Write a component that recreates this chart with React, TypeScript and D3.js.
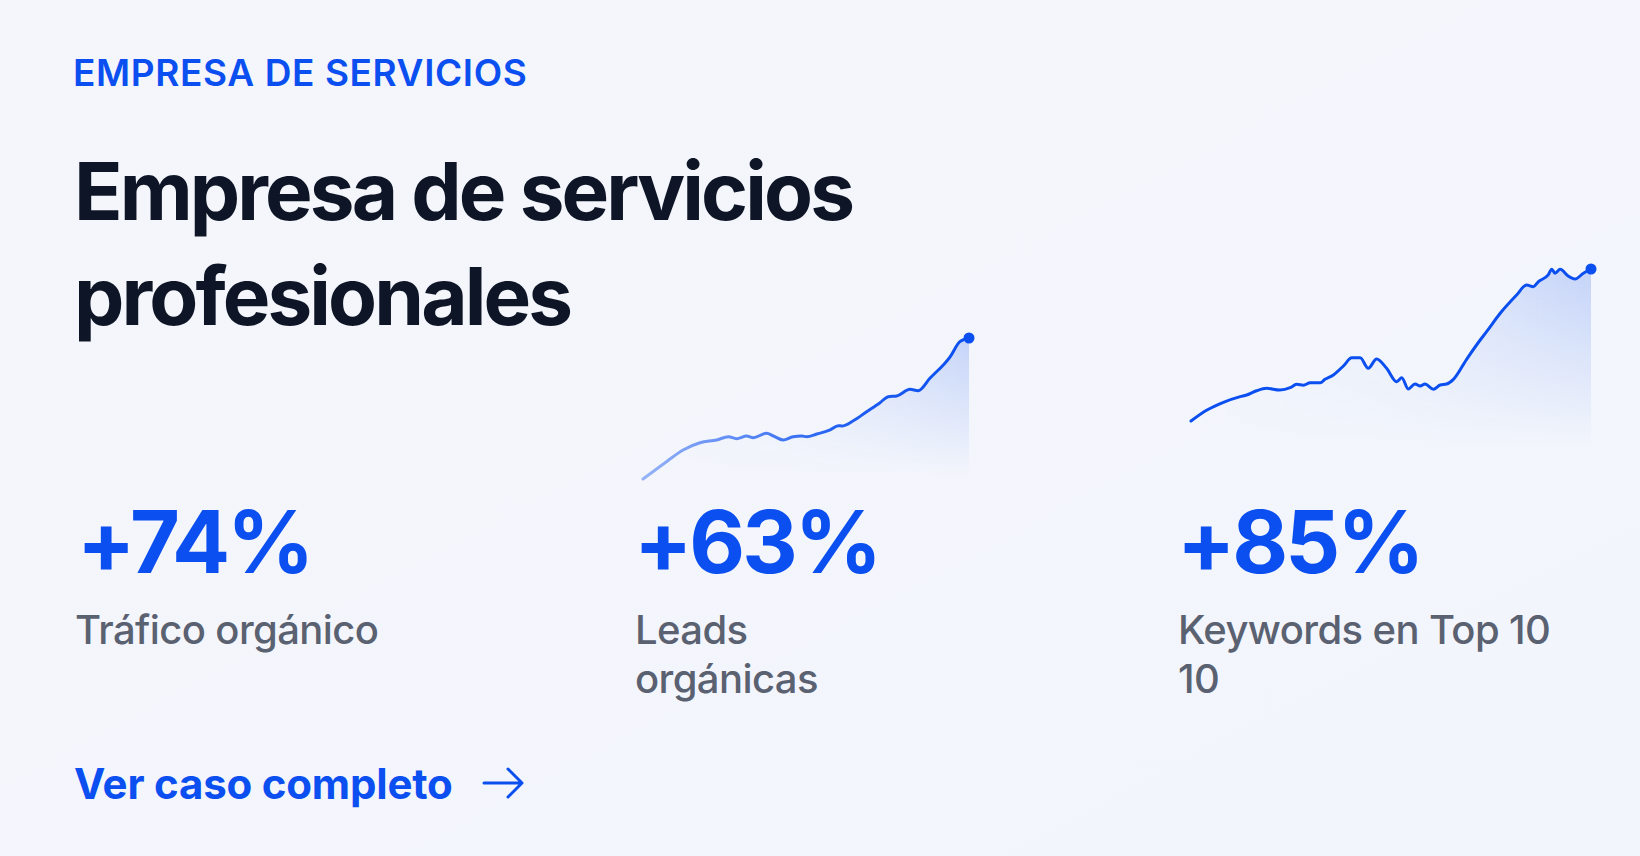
import { useEffect } from 'react'
import * as d3 from 'd3'

// Leads orgánicas sparkline (x = progress of the period, y = relative index)
const leadsX = [0, 7.2, 12.3, 17.5, 22.6, 26.2, 28.7, 31.8, 33.8, 37.9, 40, 43, 46, 48.7, 50.2, 53.3, 57.4, 59.9, 61, 64.5, 68.6, 72.7, 75.2, 77.8, 81.9, 84.4, 88, 94.2, 97.2, 100]
const leadsY = [0, 12.3, 20.6, 25.7, 27.7, 30, 28.6, 30.5, 29.3, 32.4, 30.5, 27.7, 30, 30.5, 30, 31.9, 34.8, 37.8, 37.6, 41.3, 47.7, 54.1, 58.4, 58.9, 63.6, 62.6, 71.4, 86.7, 97.4, 100]

// Keywords en Top 10 sparkline
const kwX = [0, 4, 8.1, 12.3, 13.9, 16.4, 18.9, 22.2, 24.8, 26.4, 28.1, 29.8, 32.3, 33.5, 35.6, 38.1, 40.2, 42.3, 44.3, 46.4, 48.9, 51.4, 52.7, 54.3, 56, 57.3, 58.5, 60.6, 62.3, 63.9, 65.6, 68.9, 72.3, 73.9, 77.3, 81.4, 83.9, 85.6, 86.8, 89.3, 90.2, 91, 92.3, 94.3, 96, 98.1, 100]
const kwY = [0, 7.2, 12.3, 16, 17.1, 19.9, 21.5, 20.4, 21.9, 24.1, 23.5, 25.2, 25.2, 27.4, 30.3, 36.2, 41.6, 41.6, 34.7, 40.8, 34.7, 25.9, 28.5, 21.1, 24.3, 23, 24.3, 20.9, 23.7, 24.3, 27.4, 40.6, 53.3, 58.8, 70.9, 82.9, 89.5, 88.4, 91.6, 96.1, 99.8, 97.2, 99.8, 95.4, 93.4, 97.2, 100]

const eyebrow = 'EMPRESA DE SERVICIOS'
const titleLines = ['Empresa de servicios', 'profesionales']
const statValues = ['+74%', '+63%', '+85%']
const statLabels = [['Tráfico orgánico'], ['Leads', 'orgánicas'], ['Keywords en Top 10', '10']]
const linkText = 'Ver caso completo'

const W = 1640
const H = 856
const BLUE = '#0b4ff0'
const DARK = '#0e1526'
const GRAY = '#5a6171'
const FONT = 'Inter, "Noto Sans", sans-serif'

interface Spark {
  id: string
  xs: number[]
  ys: number[]
  x0: number
  x1: number
  yTop: number
  yZero: number
  yBase: number
  fadeLine: boolean
}

const sparks: Spark[] = [
  { id: 'leads', xs: leadsX, ys: leadsY, x0: 643, x1: 969, yTop: 338, yZero: 479, yBase: 475, fadeLine: true },
  { id: 'kw', xs: kwX, ys: kwY, x0: 1191, x1: 1591, yTop: 269, yZero: 421, yBase: 445, fadeLine: false }
]

const statX = [77, 634, 1177]
const labelX = [75, 635, 1178]

export default function App() {
  useEffect(() => {
    document.body.style.margin = '0'
    document.body.style.background = '#f3f6fb'
  }, [])

  return (
    <svg width={W} height={H} style={{ display: 'block', fontFamily: FONT }}>
      <defs>
        <linearGradient id="bg" x1="0" y1="0" x2="1" y2="1">
          <stop offset="0%" stopColor="#f4f6fb" />
          <stop offset="100%" stopColor="#f2f5fc" />
        </linearGradient>
        {sparks.map(s => (
          <g key={s.id}>
            <linearGradient id={`${s.id}-fillH`} gradientUnits="userSpaceOnUse" x1={s.x0} y1={0} x2={s.x1} y2={0}>
              <stop offset="0%" stopColor={BLUE} stopOpacity={0} />
              <stop offset="45%" stopColor={BLUE} stopOpacity={0.05} />
              <stop offset="100%" stopColor={BLUE} stopOpacity={0.2} />
            </linearGradient>
            <linearGradient id={`${s.id}-fadeV`} gradientUnits="userSpaceOnUse" x1={0} y1={s.yTop} x2={0} y2={s.yBase}>
              <stop offset="0%" stopColor="#fff" stopOpacity={1} />
              <stop offset="100%" stopColor="#fff" stopOpacity={0} />
            </linearGradient>
            <mask id={`${s.id}-mask`} maskUnits="userSpaceOnUse" x={0} y={0} width={W} height={H}>
              <rect x={s.x0 - 5} y={s.yTop - 5} width={s.x1 - s.x0 + 10} height={s.yBase - s.yTop + 5} fill={`url(#${s.id}-fadeV)`} />
            </mask>
            <linearGradient id={`${s.id}-stroke`} gradientUnits="userSpaceOnUse" x1={s.x0} y1={0} x2={s.x1} y2={0}>
              <stop offset="0%" stopColor={BLUE} stopOpacity={s.fadeLine ? 0.4 : 1} />
              <stop offset="60%" stopColor={BLUE} stopOpacity={s.fadeLine ? 0.9 : 1} />
              <stop offset="100%" stopColor={BLUE} stopOpacity={1} />
            </linearGradient>
          </g>
        ))}
      </defs>
      <rect width={W} height={H} fill="url(#bg)" />

      <text x={73} y={86} fill={BLUE} fontSize={37} fontWeight={600} letterSpacing="0.6">{eyebrow}</text>

      {titleLines.map((t, i) => (
        <text key={t} x={74} y={220 + i * 105} fill={DARK} fontSize={80} fontWeight={700} letterSpacing="-2.9">{t}</text>
      ))}

      {sparks.map(s => <Sparkline key={s.id} s={s} />)}

      {statValues.map((v, i) => (
        <text key={v} x={statX[i]} y={573} fill={BLUE} fontSize={86} fontWeight={700} letterSpacing="-3">{v}</text>
      ))}

      {statLabels.map((lines, i) => (
        <text key={i} fill={GRAY} fontSize={40} fontWeight={500} letterSpacing="-0.6">
          {lines.map((l, j) => (
            <tspan key={j} x={labelX[i]} y={644 + j * 49}>{l}</tspan>
          ))}
        </text>
      ))}

      <text x={74} y={799} fill={BLUE} fontSize={42} fontWeight={700} letterSpacing="-0.2">{linkText}</text>
      <path d="M484,783 H522 M508,769 L522,783 L508,797" fill="none" stroke={BLUE} strokeWidth={3} strokeLinecap="round" strokeLinejoin="round" />
    </svg>
  )
}

function Sparkline({ s }: { s: Spark }) {
  const x = d3.scaleLinear().domain([0, 100]).range([s.x0, s.x1])
  const y = d3.scaleLinear().domain([0, 100]).range([s.yZero, s.yTop])
  const pts = s.xs.map((v, i) => [v, s.ys[i]] as [number, number])
  const line = d3.line<[number, number]>().x(d => x(d[0])).y(d => y(d[1])).curve(d3.curveMonotoneX)
  const area = d3.area<[number, number]>().x(d => x(d[0])).y0(s.yBase).y1(d => y(d[1])).curve(d3.curveMonotoneX)
  const last = pts[pts.length - 1]
  return (
    <g>
      <path d={area(pts) || ''} fill={`url(#${s.id}-fillH)`} mask={`url(#${s.id}-mask)`} />
      <path d={line(pts) || ''} fill="none" stroke={`url(#${s.id}-stroke)`} strokeWidth={3} strokeLinejoin="round" strokeLinecap="round" />
      <circle cx={x(last[0])} cy={y(last[1])} r={5.5} fill={BLUE} />
    </g>
  )
}
